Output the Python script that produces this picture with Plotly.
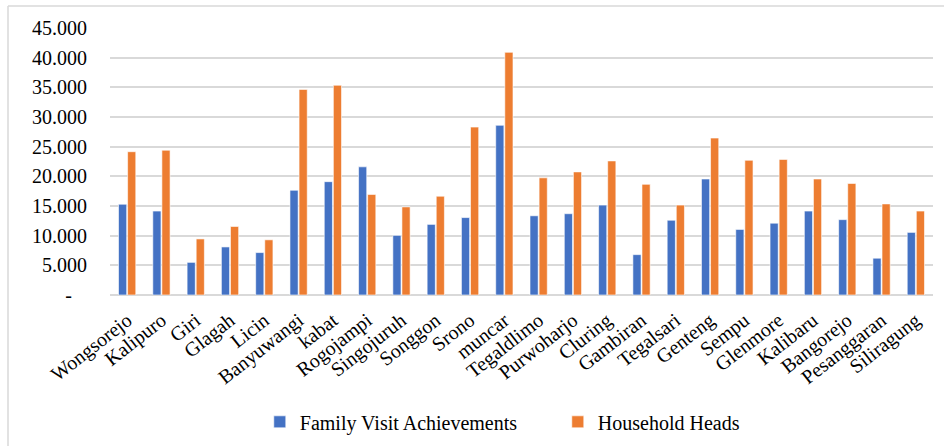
import plotly.graph_objects as go

categories = ["Wongsorejo", "Kalipuro", "Giri", "Glagah", "Licin", "Banyuwangi", "kabat",
              "Rogojampi", "Singojuruh", "Songgon", "Srono", "muncar", "Tegaldlimo",
              "Purwoharjo", "Cluring", "Gambiran", "Tegalsari", "Genteng", "Sempu",
              "Glenmore", "Kalibaru", "Bangorejo", "Pesanggaran", "Siliragung"]

family_visits = [15300, 14150, 5500, 8100, 7150, 17650, 19100, 21600, 10050, 11900,
                 13050, 28600, 13350, 13700, 15150, 6800, 12600, 19550, 11050, 12100,
                 14150, 12700, 6200, 10550]

household_heads = [24150, 24400, 9450, 11550, 9300, 34650, 35350, 16950, 14850, 16650,
                   28300, 40900, 19750, 20750, 22600, 18650, 15150, 26450, 22700, 22850,
                   19550, 18800, 15350, 14150]

y_tickvals = [0, 5000, 10000, 15000, 20000, 25000, 30000, 35000, 40000, 45000]
y_ticktext = ["-\u00a0\u00a0\u00a0", "5.000", "10.000", "15.000", "20.000", "25.000",
              "30.000", "35.000", "40.000", "45.000"]

FONT = "Liberation Serif"

fig = go.Figure()
fig.add_trace(go.Bar(x=categories, y=family_visits, name="Family Visit Achievements",
                     marker=dict(color="#4472C4", line=dict(color="#ffffff", width=0.6))))
fig.add_trace(go.Bar(x=categories, y=household_heads, name="Household Heads",
                     marker=dict(color="#ED7D31", line=dict(color="#ffffff", width=0.6))))

fig.update_layout(
    width=944, height=446,
    margin=dict(l=110, r=11, t=28, b=151, autoexpand=False),
    paper_bgcolor="white", plot_bgcolor="white",
    barmode="group", bargap=0.47, bargroupgap=0.1,
    font=dict(family=FONT, color="#000000"),
    showlegend=True,
    legend=dict(orientation="h", x=0.182, xanchor="left", y=-0.475, yanchor="middle",
                font=dict(family=FONT, size=20, color="#000000"),
                itemwidth=30, entrywidth=253, traceorder="normal"),
    xaxis=dict(tickangle=-38, tickfont=dict(family=FONT, size=20), showgrid=False,
               showline=False, ticks="", ticklabelstandoff=9),
    yaxis=dict(range=[0, 45000], tickvals=y_tickvals, ticktext=y_ticktext,
               tickfont=dict(family=FONT, size=20), showgrid=True, gridcolor="#d9d9d9",
               gridwidth=1.5, zeroline=True, zerolinecolor="#d9d9d9", zerolinewidth=1.5,
               showline=False, ticks="", ticklabelstandoff=22),
    shapes=[
        dict(type="line", xref="paper", yref="paper", x0=-102/823, x1=1.02, y0=1 + 22/267, y1=1 + 22/267,
             line=dict(color="#d9d9d9", width=1.5)),
        dict(type="line", xref="paper", yref="paper", x0=-102/823, x1=-102/823, y0=1 + 22/267, y1=-1.0,
             line=dict(color="#d9d9d9", width=1.5)),
    ],
)

fig.write_html("out.html")
